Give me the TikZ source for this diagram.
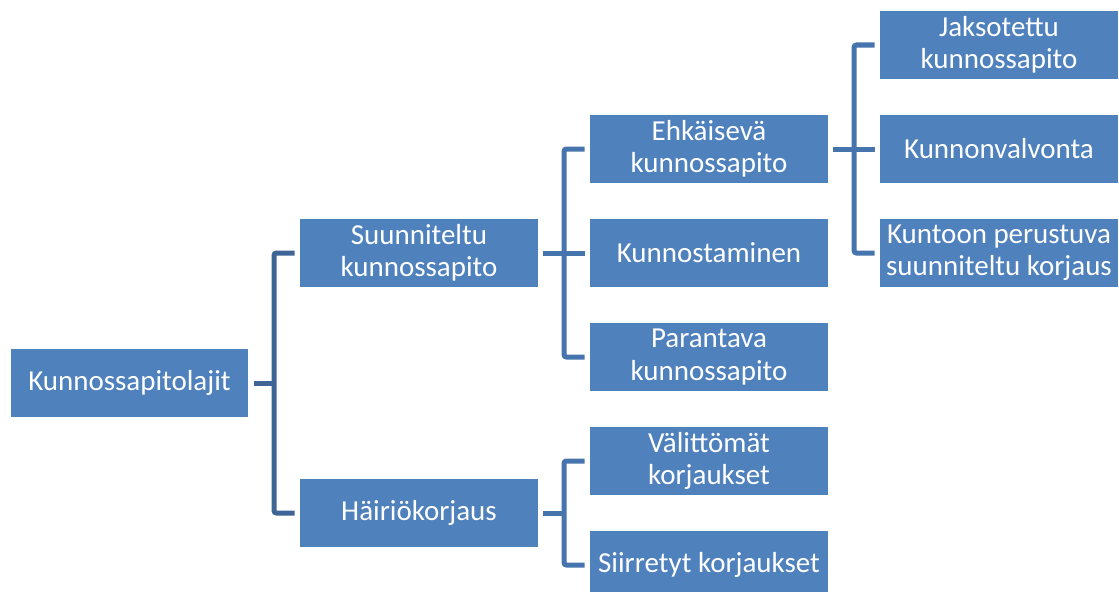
\documentclass[tikz,border=0pt]{standalone}
\usepackage{fontspec}
\setmainfont{Carlito}
\usetikzlibrary{positioning}
\definecolor{laatikko}{HTML}{4F81BD}
\definecolor{viiva}{HTML}{3E6595}
\definecolor{viivab}{HTML}{4675AD}

\tikzset{
  laji/.style={fill=laatikko, draw=none, text=white, minimum width=5.925cm, minimum height=1.7cm,
    inner sep=0pt, align=center, font=\fontsize{20.6}{23}\selectfont},
  haara/.style={line width=0.125cm, draw=viivab, rounded corners=0.06cm, shorten <=0.14cm, shorten >=0.14cm},
  runko/.style={haara, draw=viiva},
  tynka/.style={shorten >=-0.06cm}
}

\begin{document}
\begin{tikzpicture}[x=0.025cm, y=-0.025cm]
\useasboundingbox (0,0) rectangle (1119,592);

% juuri ja ensimmainen taso
\node[laji] (lajit) at (129.5,383) {Kunnossapitolajit};
\node[laji] (suun) at (419,253) {Suunniteltu\\kunnossapito};
\node[laji] (hairio) at (419,513) {Häiriökorjaus};

% toinen taso
\node[laji] (ehk) at (709,149) {Ehkäisevä\\kunnossapito};
\node[laji] (kunnost) at (709,253) {Kunnostaminen};
\node[laji] (parant) at (709,357) {Parantava\\kunnossapito};
\node[laji] (valit) at (709,461) {Välittömät\\korjaukset};
\node[laji] (siirr) at (709,565) {Siirretyt korjaukset};

% kolmas taso
\node[laji] (jakso) at (999,45) {Jaksotettu\\kunnossapito};
\node[laji] (valvonta) at (999,149) {Kunnonvalvonta};
\node[laji] (kuntoon) at (999,253) {Kuntoon perustuva\\suunniteltu korjaus};

% liitoskohdat
\coordinate (j1) at (274,383);
\coordinate (j2) at (564,253);
\coordinate (j3) at (564,513);
\coordinate (j4) at (854,149);

% yhteydet
\draw[runko, tynka] (lajit.east) -- (j1);
\draw[runko] (suun.west) -| (j1) |- (hairio.west);

\draw[haara] (suun.east) -- (kunnost.west);
\draw[haara] (ehk.west) -| (j2) |- (parant.west);

\draw[haara, tynka] (hairio.east) -- (j3);
\draw[haara] (valit.west) -| (j3) |- (siirr.west);

\draw[haara] (ehk.east) -- (valvonta.west);
\draw[haara] (jakso.west) -| (j4) |- (kuntoon.west);
\end{tikzpicture}
\end{document}
